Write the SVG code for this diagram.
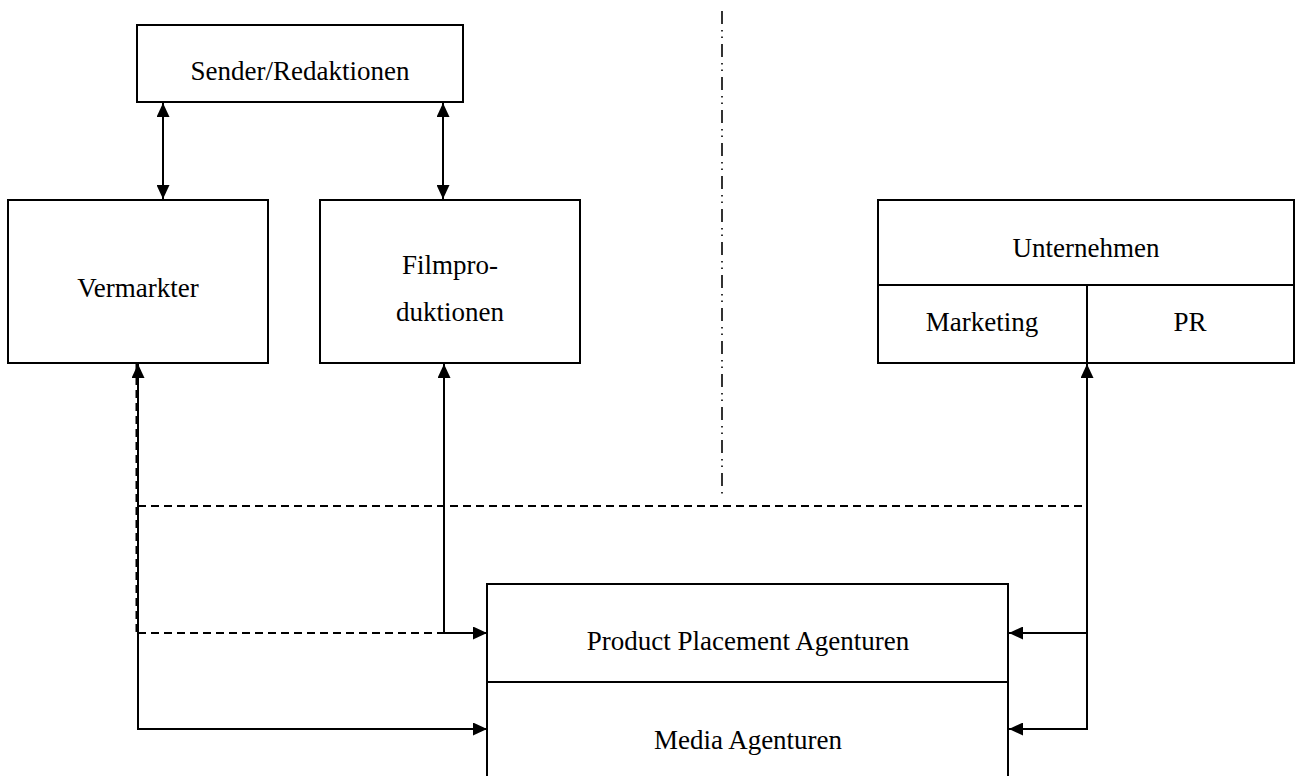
<svg xmlns="http://www.w3.org/2000/svg" width="1295" height="776" viewBox="0 0 1295 776">
<style>
.box{fill:#fff;stroke:#000;stroke-width:2}
.div{fill:none;stroke:#000;stroke-width:2}
.t{font-family:"Liberation Serif","Times New Roman",serif;font-size:27px;fill:#000;text-anchor:middle}
.c{fill:none;stroke:#000;stroke-width:2}
.d{fill:none;stroke:#000;stroke-width:2;stroke-dasharray:8 5}
.dd{fill:none;stroke:#000;stroke-width:1.6;stroke-dasharray:13 6 1.5 5 1.5 6}
</style>
<defs>
<marker id="ah" markerUnits="userSpaceOnUse" markerWidth="15" markerHeight="13" viewBox="0 0 15 13" refX="14" refY="6.5" orient="auto-start-reverse">
<path d="M0,0 L14,6.5 L0,13 Z" fill="#000"/>
</marker>
</defs>
<g id="sender">
<rect class="box" x="137" y="25" width="326" height="77"/>
<text class="t" x="300" y="80">Sender/Redaktionen</text>
</g>
<g id="vermarkter">
<rect class="box" x="8" y="200" width="260" height="163"/>
<text class="t" x="138" y="297">Vermarkter</text>
</g>
<g id="filmproduktionen">
<rect class="box" x="320" y="200" width="260" height="163"/>
<text class="t" x="450" y="274">Filmpro-</text>
<text class="t" x="450" y="321">duktionen</text>
</g>
<g id="unternehmen">
<rect class="box" x="878" y="200" width="416" height="163"/>
<line class="div" x1="878" y1="285" x2="1294" y2="285"/>
<line class="div" x1="1087" y1="285" x2="1087" y2="363"/>
<text class="t" x="1086" y="257">Unternehmen</text>
<text class="t" x="982" y="331">Marketing</text>
<text class="t" x="1190" y="331">PR</text>
</g>
<g id="agenturen">
<rect class="box" x="487" y="584" width="521" height="200"/>
<line class="div" x1="487" y1="682" x2="1008" y2="682"/>
<text class="t" x="748" y="650">Product Placement Agenturen</text>
<text class="t" x="748" y="749">Media Agenturen</text>
</g>
<g id="divider">
<line class="dd" x1="722" y1="11" x2="722" y2="496"/>
</g>
<g id="connectors">
<line class="c" x1="163" y1="103" x2="163" y2="199" marker-start="url(#ah)" marker-end="url(#ah)"/>
<line class="c" x1="443" y1="103" x2="443" y2="199" marker-start="url(#ah)" marker-end="url(#ah)"/>
<line class="d" x1="136.5" y1="364" x2="136.5" y2="633"/>
<path class="c" d="M138,364 L138,729 L487,729" marker-start="url(#ah)" marker-end="url(#ah)"/>
<path class="c" d="M444,364 L444,633 L487,633" marker-start="url(#ah)" marker-end="url(#ah)"/>
<path class="c" d="M1087,364 L1087,729 L1009,729" marker-start="url(#ah)" marker-end="url(#ah)"/>
<path class="c" d="M1087,633 L1009,633" marker-end="url(#ah)"/>
<path class="d" d="M138,506 L1087,506"/>
<path class="d" d="M138,633 L444,633"/>
</g>
</svg>
